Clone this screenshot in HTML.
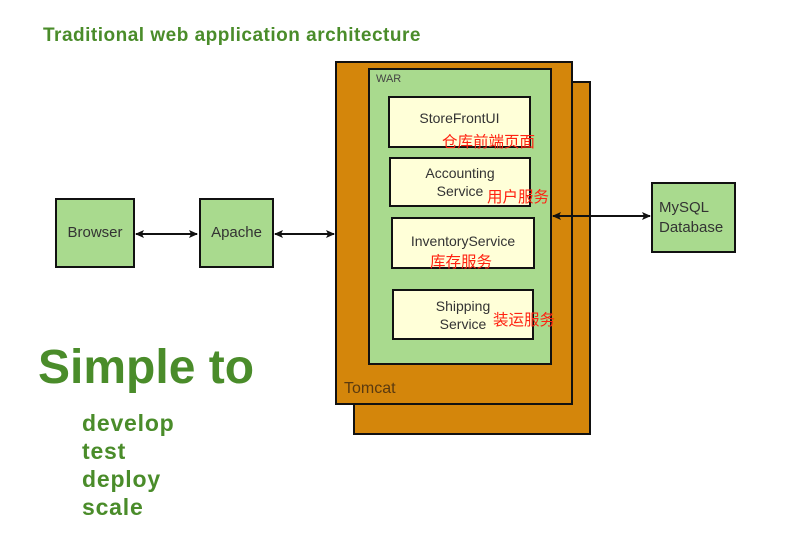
<!DOCTYPE html>
<html><head><meta charset="utf-8"><style>
body{margin:0;width:802px;height:548px;background:#fff;position:relative;overflow:hidden;font-family:"Liberation Sans","Noto Sans CJK SC",sans-serif}
.b{position:absolute;box-sizing:border-box;border:2px solid #111}
.g{background:#a9da8e}
.o{background:#d4860b}
.c{background:#ffffd8;color:#333;font-size:14px;text-align:center;display:flex;align-items:center;justify-content:center;line-height:18px}
.t{position:absolute;white-space:nowrap}
.r{position:absolute;color:#f21;font-size:15.5px;white-space:nowrap}
.n{color:#333;font-size:15px;display:flex;align-items:center;justify-content:center;text-align:center;line-height:20px}
.gr{color:#4a8c2a;font-weight:bold}
</style></head><body>
<div class="t gr" style="left:43px;top:25px;font-size:19px;letter-spacing:0.5px">Traditional web application architecture</div>
<div class="b o" style="left:353px;top:81px;width:238px;height:354px"></div>
<div class="b o" style="left:335px;top:61px;width:238px;height:344px"></div>
<div class="t" style="left:344px;top:380px;font-size:16px;color:#5a3a10">Tomcat</div>
<div class="b g" style="left:368px;top:68px;width:184px;height:297px"></div>
<div class="t" style="left:376px;top:73px;font-size:11px;color:#444">WAR</div>
<div class="b c" style="left:388px;top:96px;width:143px;height:52px;padding-bottom:8px">StoreFrontUI</div>
<div class="b c" style="left:389px;top:157px;width:142px;height:50px">Accounting<br>Service</div>
<div class="b c" style="left:391px;top:217px;width:144px;height:52px;padding-bottom:4px">InventoryService</div>
<div class="b c" style="left:392px;top:289px;width:142px;height:51px">Shipping<br>Service</div>
<div class="r" style="left:442px;top:130px">仓库前端页面</div>
<div class="r" style="left:487px;top:185px">用户服务</div>
<div class="r" style="left:430px;top:250px">库存服务</div>
<div class="r" style="left:493px;top:308px">装运服务</div>
<div class="b g n" style="left:55px;top:198px;width:80px;height:70px">Browser</div>
<div class="b g n" style="left:199px;top:198px;width:75px;height:70px">Apache</div>
<div class="b g n" style="left:651px;top:182px;width:85px;height:71px;text-align:left;justify-content:flex-start;padding-left:6px">MySQL<br>Database</div>
<svg style="position:absolute;left:0;top:0" width="802" height="548">
<defs><marker id="a" markerWidth="10" markerHeight="10" refX="8" refY="4" orient="auto-start-reverse" markerUnits="userSpaceOnUse"><path d="M0,0 L9,4 L0,8 L2,4 Z" fill="#111"/></marker></defs>
<g stroke="#111" stroke-width="2" fill="none">
<line x1="136" y1="234" x2="197" y2="234" marker-start="url(#a)" marker-end="url(#a)"/>
<line x1="275" y1="234" x2="334" y2="234" marker-start="url(#a)" marker-end="url(#a)"/>
<line x1="553" y1="216" x2="650" y2="216" marker-start="url(#a)" marker-end="url(#a)"/>
</g></svg>
<div class="t gr" style="left:38px;top:340px;font-size:48px">Simple to</div>
<div class="t gr" style="left:82px;top:409px;font-size:23px;line-height:28px;letter-spacing:0.8px">develop<br>test<br>deploy<br>scale</div>
</body></html>
